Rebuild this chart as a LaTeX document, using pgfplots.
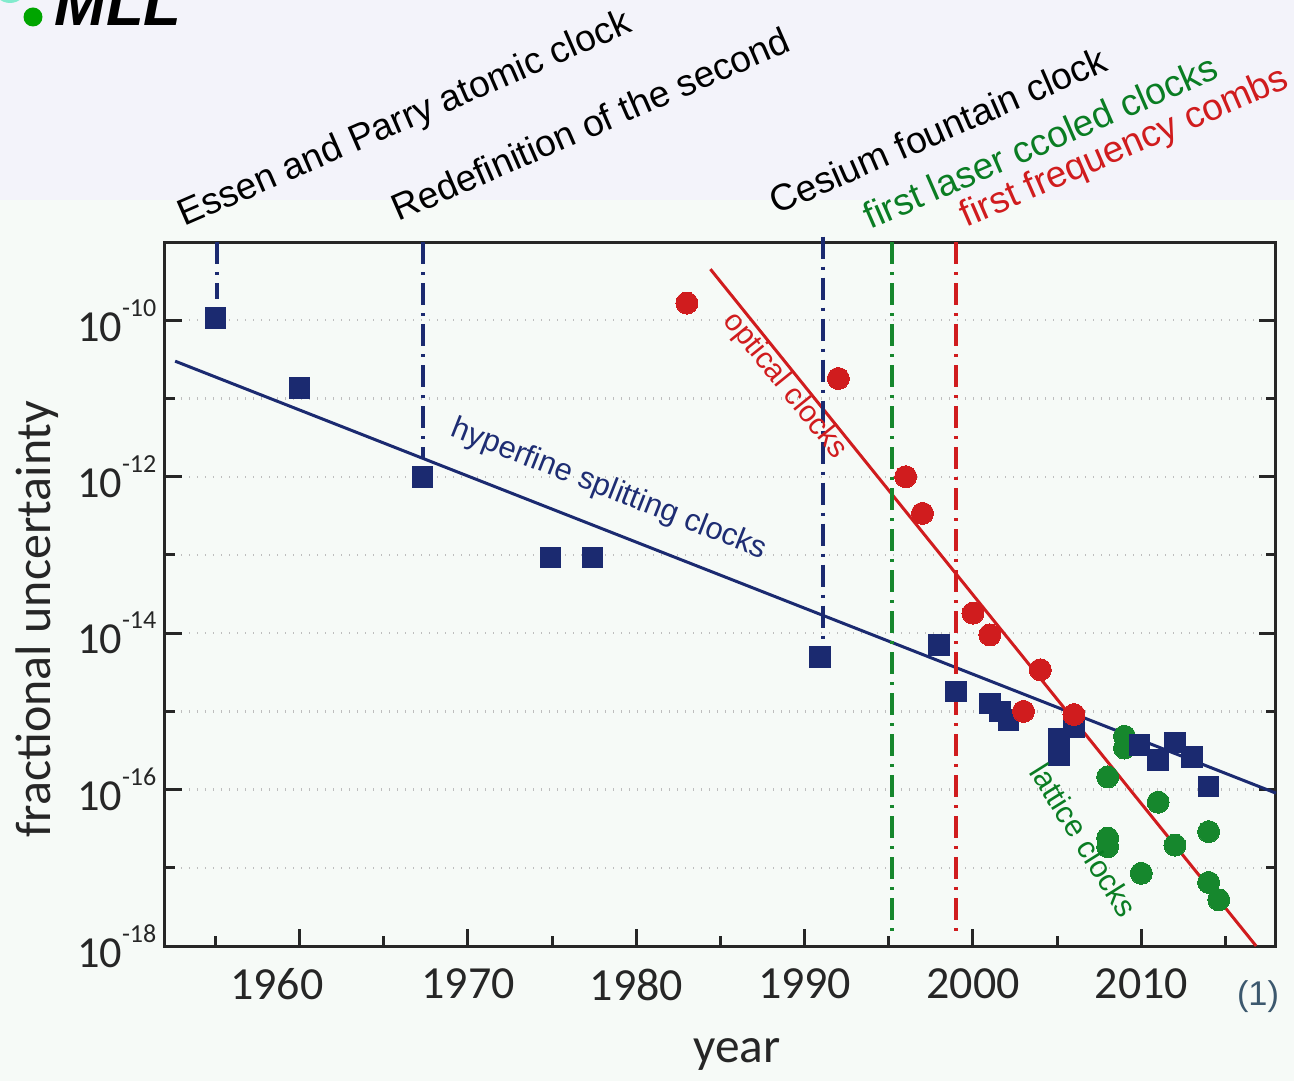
\documentclass[border=0pt]{standalone}
\usepackage{fontspec}
\setmainfont{Liberation Sans}
\newfontfamily\carlito{Carlito}
\usepackage{pgfplots}
\pgfplotsset{compat=1.18}

\definecolor{navyc}{RGB}{27,42,112}
\definecolor{navytext}{RGB}{30,45,115}
\definecolor{redc}{RGB}{208,28,30}
\definecolor{greenc}{RGB}{22,135,45}
\definecolor{gtext}{RGB}{10,125,35}
\definecolor{bandtop}{RGB}{243,243,250}
\definecolor{bandlow}{RGB}{246,250,247}
\definecolor{slate}{RGB}{60,88,110}
\definecolor{gridc}{RGB}{190,190,190}
\definecolor{logogreen}{RGB}{0,165,0}
\definecolor{logoteal}{RGB}{130,235,205}

% power-of-ten tick label
\newcommand\dec[1]{10\raisebox{7.5pt}{\fontsize{7.8}{7.8}\selectfont #1}}

\tikzset{dashdot/.style={line width=1.1pt, dash pattern=on 6.6pt off 2.4pt on 0.9pt off 2.4pt}}

\begin{document}
\begin{tikzpicture}
% page frame and backgrounds (unit = 0.3pt, y downward)
\begin{scope}[x=0.3pt,y=-0.3pt]
  \useasboundingbox (0,0) rectangle (1294,1081);
  \fill[bandlow] (0,0) rectangle (1294,1081);
  \fill[bandtop] (0,0) rectangle (1294,200);
  \begin{scope}
    \clip (0,0) rectangle (1294,1081);
    \fill[logoteal] (10,-14) circle[radius=17];
    \fill[logogreen] (33,17) circle[radius=9.5];
    \node[anchor=base west, inner sep=0pt, font=\fontsize{18.5}{18.5}\selectfont\bfseries\itshape] at (54,26) {MLL};
  \end{scope}
\end{scope}

\begin{axis}[
  at={(49.5pt,-283.8pt)}, anchor=south west,
  scale only axis, width=333.3pt, height=211.2pt,
  xmin=1952, xmax=2018, ymode=log, ymin=1e-18, ymax=1e-9,
  clip=false,
  axis line style={line width=0.9pt, draw=black!85},
  xtick={1960,1970,1980,1990,2000,2010},
  xticklabels={\hspace*{-13.8pt}1960,1970,1980,1990,2000,2010},
  minor xtick={1955,1965,1975,1985,1995,2005,2015},
  ytick={1e-18,1e-16,1e-14,1e-12,1e-10},
  yticklabels={\dec{-18},\dec{-16},\dec{-14},\dec{-12},\dec{-10}},
  minor ytick={1e-17,1e-15,1e-13,1e-11},
  tick align=inside, xtick pos=left, ytick pos=both, yticklabel pos=left,
  major tick length=5pt, minor tick length=3pt,
  tick style={line width=0.9pt, color=black!85},
  ymajorgrids, yminorgrids,
  major grid style={dotted, gridc, line width=0.7pt},
  minor grid style={dotted, gridc, line width=0.7pt},
  xticklabel style={font=\carlito\fontsize{13.8}{13.8}\selectfont, text=black!85, inner sep=0pt, yshift=-6.6pt},
  yticklabel style={font=\carlito\fontsize{13.3}{13.3}\selectfont, text=black!85, inner sep=0pt, xshift=-2.4pt},
  xlabel={year}, ylabel={fractional uncertainty},
  xlabel style={font=\carlito\fontsize{14.8}{14.8}\selectfont, text=black!85, at={(axis description cs:0.515,-0.1648)}, anchor=base, inner sep=0pt},
  ylabel style={font=\carlito\fontsize{15}{15}\selectfont, text=black!85, at={(axis description cs:-0.1035,0.4645)}, anchor=base, inner sep=0pt},
]
% lattice clocks
\addplot[only marks, color=greenc, mark=*, mark size=3.3pt, mark options={draw=greenc, fill=greenc, line width=0pt}] coordinates {
  (2009.0,4.8e-16) (2009.0,3.4e-16) (2008.0,1.45e-16) (2011.0,6.9e-17)
  (2014.0,2.9e-17) (2008.0,2.4e-17) (2008.0,1.86e-17) (2012.0,1.95e-17)
  (2010.0,8.5e-18) (2014.0,6.5e-18) (2014.6,3.9e-18)
};
% hyperfine splitting clocks
\addplot[only marks, color=navyc, mark=square*, mark size=3.1pt, mark options={draw=navyc, fill=navyc, line width=0pt}] coordinates {
  (1955.0,1.07e-10) (1960.0,1.35e-11) (1967.3,1.0e-12) (1974.9,9.3e-14)
  (1977.4,9.3e-14) (1990.9,5.0e-15) (1998.0,7.1e-15) (1999.0,1.8e-15)
  (2001.0,1.26e-15) (2001.6,1.0e-15) (2002.1,7.8e-16) (2005.1,4.4e-16)
  (2005.1,2.75e-16) (2006.0,6.3e-16) (2009.9,3.7e-16) (2011.0,2.4e-16)
  (2012.0,4.0e-16) (2013.0,2.6e-16) (2014.0,1.1e-16)
};
% optical clocks
\addplot[only marks, color=redc, mark=*, mark size=3.3pt, mark options={draw=redc, fill=redc, line width=0pt}] coordinates {
  (1983.0,1.66e-10) (1992.0,1.8e-11) (1996.0,1.0e-12) (1997.0,3.4e-13)
  (2000.0,1.8e-14) (2001.0,9.5e-15) (2004.0,3.4e-15) (2003.0,1.0e-15)
  (2006.0,9.1e-16)
};
% trend lines
\addplot[navyc, line width=0.9pt] coordinates {(1952.6,3.0e-11) (2018,9.0e-17)};
\addplot[redc, line width=0.9pt] coordinates {(1984.4,4.5e-10) (2016.82,1e-18)};
% milestones
\addplot[navyc, dashdot] coordinates {(1955.1,1e-9) (1955.1,1.86e-10)};
\addplot[navyc, dashdot] coordinates {(1967.34,1e-9) (1967.34,1.66e-12)};
\addplot[navyc, dashdot] coordinates {(1991.07,1.17e-9) (1991.07,7.6e-15)};
\addplot[greenc, dashdot] coordinates {(1995.18,1e-9) (1995.18,1.3e-18)};
\addplot[redc, dashdot] coordinates {(1998.99,1e-9) (1998.99,1.4e-18)};
\end{axis}

\begin{scope}[x=0.3pt,y=-0.3pt]
  \tikzset{milestone/.style={rotate=23.5, anchor=base west, inner sep=0pt, font=\fontsize{11.15}{11.15}\selectfont}}
  \node[milestone] at (184,227) {Essen and Parry atomic clock};
  \node[milestone] at (398,222) {Redefinition of the second};
  \node[milestone] at (776,215) {Cesium fountain clock};
  \node[milestone, text=gtext] at (870,230) {first laser ccoled clocks};
  \node[milestone, text=redc] at (966,228) {first frequency combs};

  \node[rotate=-21.5, font=\fontsize{9.3}{9.3}\selectfont, text=navytext] at (609,490) {hyperfine splitting clocks};
  \node[rotate=-51, font=\fontsize{9}{9}\selectfont, text=redc] at (785,386) {optical clocks};
  \node[rotate=-58, font=\fontsize{9.2}{9.2}\selectfont, text=gtext] at (1084,840) {lattice clocks};
  \node[font=\fontsize{10.3}{10.3}\selectfont, text=slate] at (1258,997) {(1)};
\end{scope}
\end{tikzpicture}
\end{document}
